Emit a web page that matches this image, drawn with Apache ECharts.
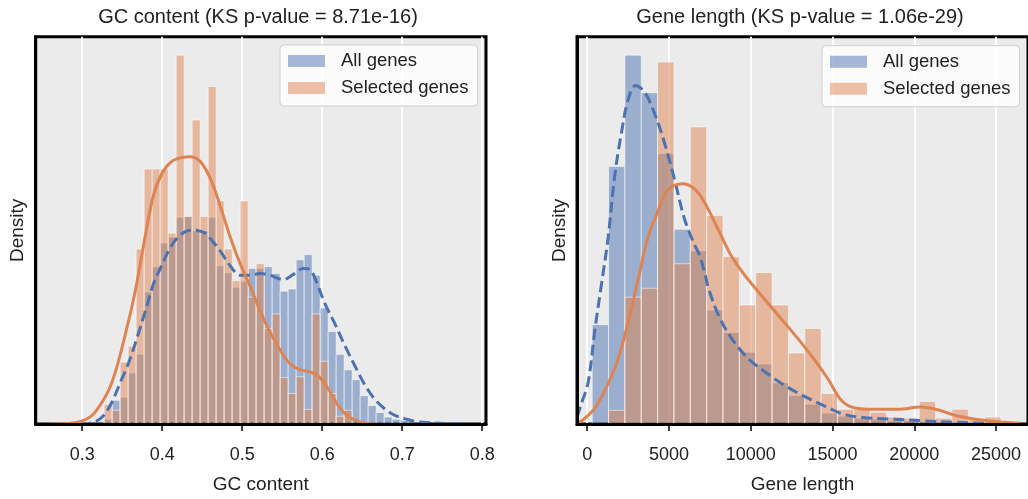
<!DOCTYPE html>
<html>
<head>
<meta charset="utf-8">
<title>GC content / Gene length</title>
<script src="https://cdn.jsdelivr.net/npm/echarts@6/dist/echarts.min.js"></script>
<style>
  html, body { margin: 0; padding: 0; background: #fff; }
  #chart { width: 1028px; height: 499px; }
</style>
</head>
<body>
<div id="chart"></div>
<script>
// GC content histogram (density), bins of 0.01 starting at 0.3275
var gcBinStart = 0.3275, gcBinWidth = 0.01;
var gcAll = [0.11, 0.55, 0.62, 1.19, 1.62, 3.07, 3.66, 4.21, 4.35, 4.81, 4.83, 4.49, 4.49, 4.81, 3.68, 3.52, 3.18, 3.32, 3.62,
  3.62, 3.66, 3.50, 3.09, 3.14, 3.82, 3.94, 3.46, 2.70, 2.15, 1.62, 1.26, 1.03, 0.66, 0.43, 0.27, 0.16, 0.11, 0.09];
var gcSelected = [0.46, 0.32, 1.44, 1.81, 4.07, 5.93, 5.93, 5.93, 4.44, 8.58, 4.83, 7.07, 4.83, 7.85, 5.19, 4.07, 3.34, 5.19, 2.95,
  3.73, 2.22, 2.56, 1.08, 0.71, 1.10, 0.34, 2.56, 1.46, 0.71, 0.18, 0.32, 0, 0, 0, 0, 0, 0, 0];
// GC content KDE curves
var gcKdeAllX = [0.2975, 0.3075, 0.316, 0.326, 0.337, 0.3475, 0.358, 0.368, 0.379, 0.389, 0.40, 0.41, 0.42, 0.431, 0.441, 0.454,
  0.46, 0.4725, 0.485, 0.4975, 0.51, 0.5225, 0.535, 0.5516, 0.564, 0.5766, 0.585, 0.591, 0.6037, 0.616, 0.6287, 0.641, 0.654,
  0.666, 0.679, 0.691, 0.704, 0.716, 0.735, 0.76, 0.785];
var gcKdeAllY = [0, 0.01, 0.05, 0.18, 0.50, 0.96, 1.42, 1.97, 2.63, 3.25, 3.71, 4.10, 4.35, 4.49, 4.51, 4.44, 4.32, 4.03, 3.68,
  3.46, 3.46, 3.50, 3.46, 3.36, 3.48, 3.62, 3.59, 3.39, 2.79, 2.33, 1.81, 1.35, 0.89, 0.57, 0.34, 0.20, 0.12, 0.06, 0.03, 0.01, 0];
var gcKdeSelX = [0.26, 0.28, 0.30, 0.316, 0.337, 0.358, 0.368, 0.379, 0.389, 0.40, 0.412, 0.425, 0.435, 0.4475, 0.46, 0.4725,
  0.485, 0.4975, 0.51, 0.5225, 0.535, 0.5475, 0.56, 0.5725, 0.585, 0.595, 0.6075, 0.62, 0.6325, 0.645, 0.6575, 0.67];
var gcKdeSelY = [0, 0.01, 0.07, 0.27, 0.96, 2.40, 3.25, 4.39, 5.31, 5.84, 6.11, 6.20, 6.22, 6.11, 5.72, 5.08, 4.35, 3.73, 3.20,
  2.63, 2.13, 1.72, 1.40, 1.26, 1.21, 1.12, 0.82, 0.43, 0.18, 0.06, 0.01, 0];
var gcTicks = [0.3, 0.4, 0.5, 0.6, 0.7, 0.8];

// Gene length histogram (density in 1e-5 per bp), bins of 1000 bp starting at 304
var lenBinStart = 304, lenBinWidth = 1000;
var lenAll = [4.58, 11.88, 17.01, 15.28, 12.47, 8.98, 7.98, 5.26, 4.22, 3.31, 2.77, 1.90, 1.32, 0.91, 0.50, 0.36, 0.27, 0.23,
  0.14, 0.14, 0.11, 0.09, 0.09, 0.07, 0.05, 0.02];
var lenSelected = [0, 0.63, 5.85, 6.26, 16.69, 7.39, 13.70, 9.61, 7.71, 5.49, 6.98, 5.49, 3.27, 4.40, 1.41, 0.68, 0.68, 0.54,
  0.32, 0.27, 1.04, 0.27, 0.68, 0.27, 0.32, 0.09];
var lenKdeAllX = [-626, -383, 61, 468, 875, 1276, 1683, 2090, 2491, 2959, 3505, 4113, 4721, 5328, 5936, 6543, 6847, 7151, 7454,
  8062, 8870, 9885, 10899, 11908, 12922, 13937, 14745, 15656, 16871, 18493, 20516, 22521, 24569, 26592];
var lenKdeAllY = [0.30, 0.88, 1.94, 4.35, 6.47, 8.58, 11.46, 13.42, 14.93, 15.61, 15.31, 14.33, 12.97, 11.31, 9.49, 8.29, 7.83,
  7.07, 6.17, 4.96, 3.90, 2.99, 2.39, 1.86, 1.41, 1.03, 0.75, 0.45, 0.30, 0.23, 0.15, 0.08, 0.03, 0.01];
var lenKdeSelX = [-626, -383, 468, 1276, 1883, 2491, 3098, 3706, 4313, 4921, 5832, 6543, 7151, 8062, 8870, 9885, 10899, 11908,
  12922, 13937, 14745, 15553, 16367, 17582, 18998, 20413, 21428, 22442, 23658, 24873, 26470];
var lenKdeSelY = [0.07, 0.12, 0.73, 1.86, 2.99, 4.66, 6.62, 8.58, 9.80, 10.78, 11.08, 10.85, 10.25, 8.89, 7.68, 6.62, 5.71, 4.81,
  3.90, 2.92, 2.05, 1.08, 0.74, 0.68, 0.68, 0.78, 0.66, 0.41, 0.23, 0.11, 0.04];
var lenTicks = [0, 5000, 10000, 15000, 20000, 25000];

var FONT = 'Liberation Sans, Arial, Helvetica, sans-serif';
var TEXT = '#222222';
var BLUE = '#4C72B0', ORANGE = '#DD8452';
var BLUE_FILL = 'rgba(76,114,176,0.5)', ORANGE_FILL = 'rgba(221,132,82,0.5)';

function histSeries(name, axis, start, width, values, fill) {
  var data = [];
  for (var i = 0; i < values.length; i++) {
    if (values[i] > 0) data.push([start + i * width, start + (i + 1) * width, values[i]]);
  }
  return {
    name: name, type: 'custom', xAxisIndex: axis, yAxisIndex: axis, z: 2,
    data: data, encode: { x: [0, 1], y: 2 }, clip: true,
    itemStyle: { color: fill },
    renderItem: function (params, api) {
      var a = api.coord([api.value(0), api.value(2)]);
      var b = api.coord([api.value(1), 0]);
      return {
        type: 'rect',
        shape: { x: a[0], y: a[1], width: b[0] - a[0], height: b[1] - a[1] },
        style: { fill: fill, stroke: 'rgba(255,255,255,0.55)', lineWidth: 1 }
      };
    }
  };
}

function kdeSeries(name, axis, xs, ys, color, dashed) {
  var pts = xs.map(function (x, i) { return [x, ys[i]]; });
  return {
    name: name, type: 'line', xAxisIndex: axis, yAxisIndex: axis, z: 4,
    data: pts, symbol: 'none', showSymbol: false, smooth: 0.35,
    lineStyle: { color: color, width: 3, type: dashed ? [11, 5] : 'solid', cap: 'butt' },
    itemStyle: { color: color }
  };
}

// axis that only carries the white vertical grid lines (drawn under the bars)
function gridAxis(idx, min, max, ticks) {
  return {
    type: 'value', gridIndex: idx, min: min, max: max, position: 'bottom',
    axisLine: { show: false }, axisLabel: { show: false },
    axisTick: { show: false, customValues: ticks },
    splitLine: { show: true, lineStyle: { color: '#ffffff', width: 1.8 } }
  };
}

// axis that carries the spine, ticks, labels and name (drawn above the bars)
function labelAxis(idx, min, max, ticks, name) {
  return {
    type: 'value', gridIndex: idx, min: min, max: max, position: 'bottom', z: 10,
    name: name, nameLocation: 'middle', nameGap: 51,
    nameTextStyle: { fontSize: 19, color: TEXT, fontFamily: FONT },
    axisLine: { show: true, onZero: false, lineStyle: { color: '#000', width: 3 } },
    axisTick: { show: true, inside: false, length: 7, customValues: ticks, lineStyle: { color: '#000', width: 1.5 } },
    axisLabel: {
      show: true, customValues: ticks, margin: 22, fontSize: 18, color: TEXT, fontFamily: FONT,
      formatter: function (v) { return String(v); }
    },
    splitLine: { show: false }
  };
}

function densityAxis(idx, max) {
  return {
    type: 'value', gridIndex: idx, min: 0, max: max, z: 10,
    name: 'Density', nameLocation: 'middle', nameGap: 8, nameRotate: 90,
    nameTextStyle: { fontSize: 19, color: TEXT, fontFamily: FONT },
    axisLine: { show: true, onZero: false, lineStyle: { color: '#000', width: 3 } },
    axisTick: { show: false }, axisLabel: { show: false }, splitLine: { show: false }
  };
}

function legendAt(left, top) {
  return {
    left: left, top: top, orient: 'vertical', selectedMode: false,
    itemWidth: 37, itemHeight: 12, itemGap: 7,
    padding: [6, 9, 8, 8],
    backgroundColor: 'rgba(255,255,255,0.8)', borderColor: 'rgba(204,204,204,0.9)', borderWidth: 1, borderRadius: 4,
    textStyle: { fontSize: 18.5, color: TEXT, fontFamily: FONT, lineHeight: 20, padding: [0, 0, 0, 11] },
    data: [
      { name: 'All genes', icon: 'rect', itemStyle: { color: BLUE_FILL, borderWidth: 0 } },
      { name: 'Selected genes', icon: 'rect', itemStyle: { color: ORANGE_FILL, borderWidth: 0 } }
    ]
  };
}

var chart = echarts.init(document.getElementById('chart'), null, { renderer: 'canvas' });
chart.setOption({
  animation: false,
  backgroundColor: '#ffffff',
  textStyle: { fontFamily: FONT },
  graphic: [
    { type: 'text', x: 258, y: 17, style: { text: 'GC content (KS p-value = 8.71e-16)', fill: TEXT,
      font: '20px ' + FONT, textAlign: 'center', textVerticalAlign: 'middle' } },
    { type: 'text', x: 800, y: 17, style: { text: 'Gene length (KS p-value = 1.06e-29)', fill: TEXT,
      font: '20px ' + FONT, textAlign: 'center', textVerticalAlign: 'middle' } }
  ],
  grid: [
    { left: 35.7, top: 36.7, width: 450.3, height: 396.3, show: true, backgroundColor: '#EBEBEB',
      borderColor: '#000', borderWidth: 3 },
    { left: 577, top: 36.7, width: 454, height: 396.3, show: true, backgroundColor: '#EBEBEB',
      borderColor: '#000', borderWidth: 3 }
  ],
  xAxis: [
    gridAxis(0, 0.2419, 0.8048, gcTicks),
    gridAxis(1, -626, 26956, lenTicks),
    labelAxis(0, 0.2419, 0.8048, gcTicks, 'GC content'),
    labelAxis(1, -626, 26956, lenTicks, 'Gene length')
  ],
  yAxis: [densityAxis(0, 9.01), densityAxis(1, 17.86)],
  legend: [legendAt(280, 45), legendAt(822, 45.7)],
  series: [
    histSeries('All genes', 0, gcBinStart, gcBinWidth, gcAll, BLUE_FILL),
    histSeries('Selected genes', 0, gcBinStart, gcBinWidth, gcSelected, ORANGE_FILL),
    kdeSeries('All genes KDE', 0, gcKdeAllX, gcKdeAllY, BLUE, true),
    kdeSeries('Selected genes KDE', 0, gcKdeSelX, gcKdeSelY, ORANGE, false),
    histSeries('All genes', 1, lenBinStart, lenBinWidth, lenAll, BLUE_FILL),
    histSeries('Selected genes', 1, lenBinStart, lenBinWidth, lenSelected, ORANGE_FILL),
    kdeSeries('All genes KDE', 1, lenKdeAllX, lenKdeAllY, BLUE, true),
    kdeSeries('Selected genes KDE', 1, lenKdeSelX, lenKdeSelY, ORANGE, false)
  ]
});
</script>
</body>
</html>
